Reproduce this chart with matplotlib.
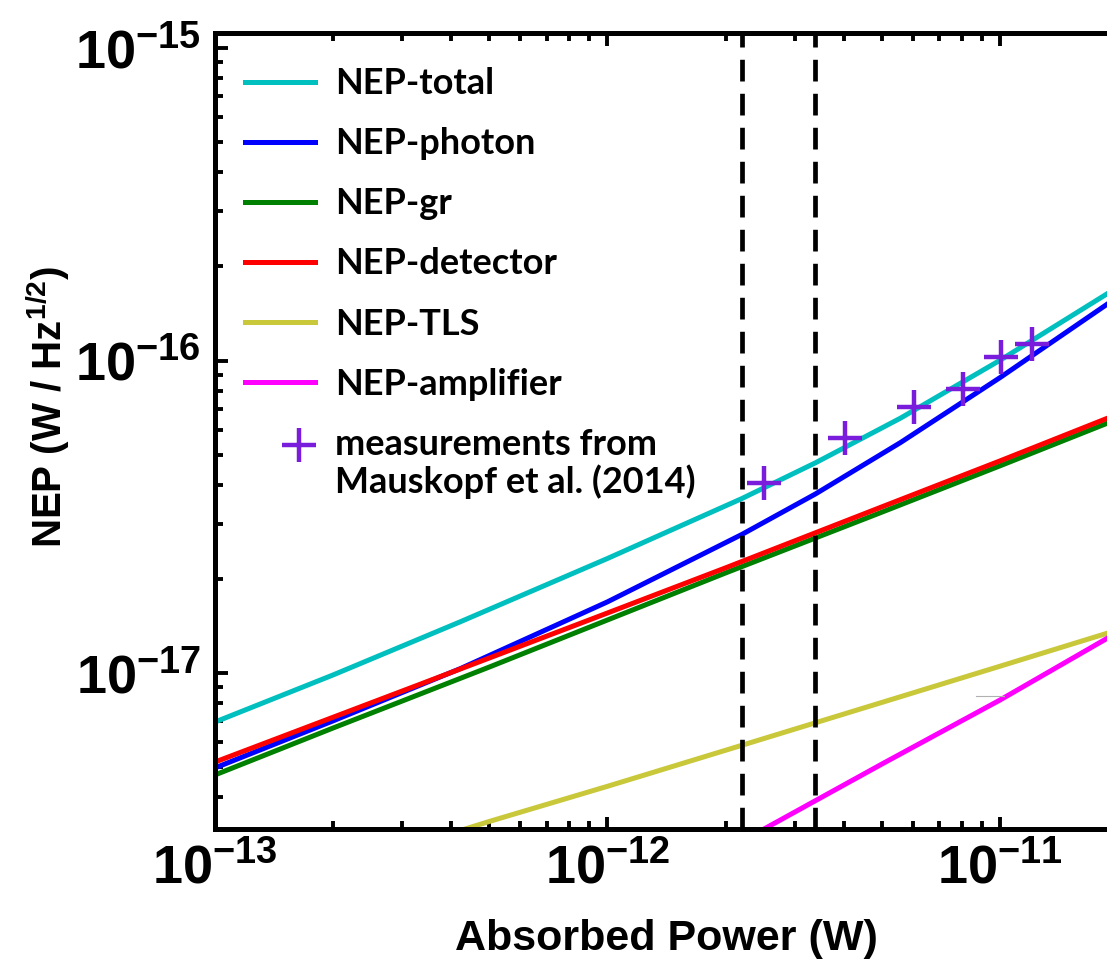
import numpy as np
import matplotlib
matplotlib.use('Agg')
import matplotlib.pyplot as plt
from matplotlib.ticker import FixedLocator, LogLocator, NullFormatter
from matplotlib.legend_handler import HandlerLine2D

plt.rcParams['font.family'] = ['Liberation Sans', 'DejaVu Sans']
plt.rcParams['font.weight'] = 'bold'
plt.rcParams['mathtext.fontset'] = 'custom'
plt.rcParams['mathtext.rm'] = 'Liberation Sans:bold'
plt.rcParams['mathtext.bf'] = 'Liberation Sans:bold'
plt.rcParams['mathtext.it'] = 'Liberation Sans:bold'
plt.rcParams['mathtext.default'] = 'bf'

# values (absorbed power in W, NEP in W/Hz^1/2)
power_tot = [1e-13, 2e-13, 4.22e-13, 1e-12, 2.2e-12, 3.39e-12, 5.58e-12,
             1e-11, 1.89e-11, 2e-11]
nep_total = [6.97e-18, 9.86e-18, 1.459e-17, 2.325e-17, 3.615e-17, 4.706e-17, 6.537e-17,
             1.001e-16, 1.644e-16, 1.719e-16]
nep_photon = [4.97e-18, 7.03e-18, 1.033e-17, 1.689e-17, 2.775e-17, 3.741e-17, 5.461e-17,
              8.808e-17, 1.523e-16, 1.600e-16]

power = [1e-13, 2e-13, 5e-13, 1e-12, 2e-12, 5e-12, 1e-11, 2e-11]
nep_gr = [4.72e-18, 6.67e-18, 1.045e-17, 1.478e-17, 2.09e-17, 3.27e-17, 4.60e-17, 6.50e-17]
nep_detector = [5.19e-18, 7.22e-18, 1.117e-17, 1.556e-17, 2.17e-17, 3.40e-17, 4.77e-17, 6.74e-17]
nep_tls = [1.79e-18, 2.34e-18, 3.35e-18, 4.34e-18, 5.66e-18, 8.05e-18, 1.051e-17, 1.374e-17]

power_amp = [2e-12, 5e-12, 1e-11, 2e-11]
nep_amp = [2.71e-18, 5.11e-18, 8.19e-18, 1.352e-17]

meas_power = [2.50e-12, 4.02e-12, 6.03e-12, 8.05e-12, 1.006e-11, 1.21e-11]
meas_nep = [4.06e-17, 5.65e-17, 7.10e-17, 8.11e-17, 1.026e-16, 1.13e-16]

band_edges = [2.20e-12, 3.39e-12]


class FirstLineHandler(HandlerLine2D):
    # put the marker next to the first line of a two-line label
    def create_artists(self, legend, orig_handle, xdescent, ydescent,
                       width, height, fontsize, trans):
        arts = super().create_artists(legend, orig_handle, xdescent, ydescent,
                                      width, height, fontsize, trans)
        for a in arts:
            y = np.asarray(a.get_ydata(), dtype=float) + 14.0
            x = np.asarray(a.get_xdata(), dtype=float) + 14.0
            a.set_data(x, y)
        return arts


fig = plt.figure(figsize=(11.07, 9.61), dpi=100)
ax = fig.add_axes([0.1942, 0.1374, 0.8157, 0.8283])

lw = 3.6
ax.plot(power_tot, nep_total, color='#00BFBF', lw=lw, label='NEP-total')
ax.plot(power_tot, nep_photon, color='#0000FF', lw=lw, label='NEP-photon')
ax.plot(power, nep_gr, color='#008000', lw=lw, label='NEP-gr')
ax.plot(power, nep_detector, color='#FF0000', lw=lw, label='NEP-detector')
ax.plot(power, nep_tls, color='#C8C83A', lw=lw, label='NEP-TLS')
ax.plot(power_amp, nep_amp, color='#FF00FF', lw=lw, label='NEP-amplifier')
meas, = ax.plot(meas_power, meas_nep, ls='none', marker='+', ms=24, mew=3.2,
                color='#7A1CDB', label='measurements from\nMauskopf et al. (2014)', zorder=5)

for xb in band_edges:
    ax.axvline(xb, color='k', lw=3.4, ls=(0, (4.6, 2.6)), zorder=4)

# faint stray line present in the original
ax.plot([8.69e-12, 1.024e-11], [8.44e-18, 8.44e-18], color='#b0b0b0', lw=0.8)

ax.set_xscale('log')
ax.set_yscale('log')
ax.set_xlim(1e-13, 2e-11)
ax.set_ylim(3.17e-18, 1.117e-15)

ax.xaxis.set_major_locator(FixedLocator([1e-13, 1e-12, 1e-11]))
ax.yaxis.set_major_locator(FixedLocator([1e-17, 1e-16, 1e-15]))
for a in (ax.xaxis, ax.yaxis):
    a.set_minor_locator(LogLocator(base=10, subs=np.arange(2, 10), numticks=20))
    a.set_minor_formatter(NullFormatter())

ax.tick_params(which='both', direction='in', width=2.8, top=True, right=False,
               labelsize=39, pad=10)
ax.tick_params(which='major', length=9)
ax.tick_params(which='minor', length=6)
for s in ['left', 'bottom', 'top']:
    ax.spines[s].set_linewidth(3.6)
ax.spines['right'].set_visible(False)

ax.set_xlabel('Absorbed Power (W)', fontsize=31, fontweight='bold')
ax.set_ylabel('NEP (W / Hz$^{1/2}$)', fontsize=29, fontweight='bold')
ax.xaxis.set_label_coords(0.5, -0.1125)
ax.yaxis.set_label_coords(-0.158, 0.53)

leg = ax.legend(loc='upper left', bbox_to_anchor=(0.033, 0.957), frameon=False,
                borderpad=0, borderaxespad=0, handlelength=1.95, handletextpad=0.55,
                labelspacing=0.75, numpoints=1,
                handler_map={meas: FirstLineHandler()},
                prop={'family': 'Lato', 'weight': 'bold', 'size': 26})
for t in leg.get_texts():
    t.set_linespacing(1.12)

fig.savefig('out.png', dpi=100)
